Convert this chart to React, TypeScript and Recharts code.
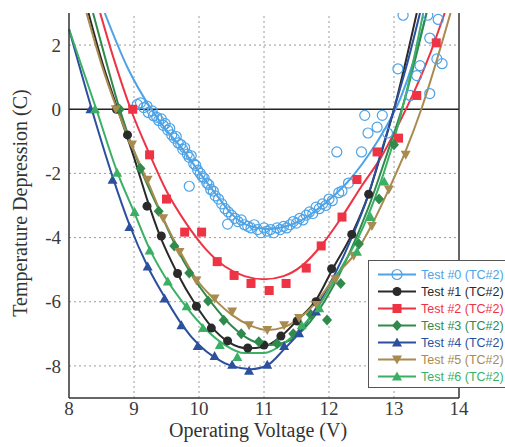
import React from 'react';
import { ComposedChart, Line, Scatter, XAxis, YAxis, ReferenceLine } from 'recharts';

type Pair = [number, number];

// fitted curves
const fit0: Pair[] = [[8.55, 3], [8.9, 1.3], [9.25, 0.05], [9.5, -0.65], [9.75, -1.25], [10.0, -1.95], [10.28, -2.7], [10.52, -3.3], [10.78, -3.64], [11.05, -3.73], [11.3, -3.67], [11.55, -3.49], [11.82, -3.12], [12.06, -2.72], [12.32, -2.19], [12.6, -1.45], [12.85, -0.65], [13.1, 0.35], [13.3, 1.5], [13.5, 3]];
const fit1: Pair[] = [[8.3, 3], [8.52, 1.4], [8.75, 0], [9.0, -1.5], [9.2, -2.8], [9.4, -3.95], [9.65, -5.05], [9.95, -6.1], [10.2, -6.8], [10.45, -7.25], [10.75, -7.45], [11.0, -7.4], [11.25, -7.1], [11.5, -6.6], [11.8, -5.95], [12.05, -5.0], [12.35, -3.9], [12.6, -2.7], [12.8, -1.4], [13.0, 0], [13.35, 3]];
const fit2: Pair[] = [[8.48, 3], [8.7, 1.5], [8.95, 0], [9.25, -1.45], [9.5, -2.55], [9.8, -3.55], [10.1, -4.35], [10.4, -4.9], [10.7, -5.2], [11.0, -5.3], [11.3, -5.2], [11.6, -4.85], [11.9, -4.2], [12.2, -3.35], [12.5, -2.4], [12.8, -1.5], [13.05, -0.55], [13.3, 0.5], [13.55, 1.7], [13.78, 3]];
const fit3: Pair[] = [[8.37, 3], [8.57, 1.5], [8.78, 0], [9.1, -1.85], [9.4, -3.2], [9.65, -4.3], [9.9, -5.2], [10.2, -6.05], [10.5, -6.75], [10.8, -7.2], [11.1, -7.35], [11.4, -7.2], [11.7, -6.65], [12.0, -5.75], [12.3, -4.55], [12.6, -3.1], [12.9, -1.35], [13.15, 0.2], [13.5, 3]];
const fit4: Pair[] = [[8.0, 2.5], [8.35, 0], [8.67, -2.1], [8.93, -3.6], [9.21, -4.9], [9.5, -5.95], [9.75, -6.75], [10.0, -7.35], [10.25, -7.75], [10.5, -8.0], [10.8, -8.1], [11.05, -7.98], [11.3, -7.5], [11.55, -6.95], [11.8, -6.2], [12.1, -5.1], [12.35, -4.0], [12.6, -2.7], [12.8, -1.35], [13.0, 0], [13.2, 1.4], [13.4, 3]];
const fit5: Pair[] = [[8.27, 3], [8.5, 1.4], [8.74, 0], [9.0, -1.3], [9.21, -2.25], [9.45, -3.4], [9.7, -4.4], [9.96, -5.3], [10.25, -5.95], [10.5, -6.4], [10.8, -6.75], [11.05, -6.88], [11.3, -6.8], [11.55, -6.5], [11.85, -5.9], [12.1, -5.2], [12.4, -4.5], [12.66, -3.6], [12.92, -2.5], [13.18, -1.3], [13.42, 0], [13.87, 3]];
const fit6: Pair[] = [[8.0, 2.5], [8.42, 0], [8.75, -2.0], [9.0, -3.2], [9.25, -4.4], [9.5, -5.3], [9.8, -6.15], [10.1, -6.85], [10.4, -7.35], [10.7, -7.6], [11.0, -7.6], [11.3, -7.3], [11.6, -6.75], [11.9, -5.95], [12.2, -4.9], [12.45, -4.0], [12.7, -2.8], [12.95, -1.3], [13.2, 0.6], [13.45, 3]];

// measured points
const pts0: Pair[] = [[9.05, 0.15], [9.1, 0.2], [9.15, 0.05], [9.2, 0.1], [9.22, -0.1], [9.28, -0.05], [9.3, -0.2], [9.35, -0.25], [9.38, -0.35], [9.42, -0.3], [9.45, -0.5], [9.48, -0.45], [9.52, -0.65], [9.55, -0.6], [9.58, -0.8], [9.62, -0.9], [9.65, -0.85], [9.68, -1.05], [9.72, -1.1], [9.75, -1.25], [9.78, -1.2], [9.82, -1.4], [9.85, -1.5], [9.85, -2.4], [9.88, -1.45], [9.92, -1.7], [9.95, -1.75], [9.98, -1.9], [10.02, -2.0], [10.05, -2.1], [10.08, -2.15], [10.12, -2.3], [10.15, -2.35], [10.18, -2.5], [10.22, -2.55], [10.25, -2.7], [10.3, -2.8], [10.35, -2.95], [10.4, -3.1], [10.44, -3.58], [10.45, -3.2], [10.5, -3.3], [10.55, -3.4], [10.6, -3.5], [10.65, -3.45], [10.7, -3.6], [10.75, -3.65], [10.8, -3.7], [10.85, -3.6], [10.9, -3.75], [10.95, -3.85], [11.0, -3.7], [11.05, -3.8], [11.1, -3.75], [11.15, -3.85], [11.2, -3.7], [11.25, -3.75], [11.3, -3.65], [11.35, -3.7], [11.4, -3.6], [11.45, -3.5], [11.5, -3.55], [11.55, -3.4], [11.6, -3.45], [11.65, -3.3], [11.7, -3.2], [11.75, -3.25], [11.8, -3.05], [11.85, -3.1], [11.9, -2.95], [11.95, -3.0], [12.0, -2.8], [12.05, -2.85], [12.12, -1.33], [12.15, -2.6], [12.2, -2.55], [12.3, -2.3], [12.5, -1.33], [12.55, -0.19], [12.6, -0.74], [12.74, -0.56], [12.82, -0.19], [12.9, -0.74], [13.06, 1.26], [13.14, 2.93], [13.25, 0.43], [13.35, 1.05], [13.4, 1.36], [13.52, 2.93], [13.55, 2.22], [13.55, 0.49], [13.66, 1.57], [13.68, 2.8], [13.74, 1.42]];
const pts1: Pair[] = [[8.73, 0], [8.9, -0.8], [9.2, -3.02], [9.42, -3.95], [9.67, -5.12], [9.96, -6.14], [10.19, -6.82], [10.44, -7.22], [10.75, -7.44], [11.0, -7.35], [11.26, -7.07], [11.51, -6.6], [11.8, -6.0], [12.04, -4.97], [12.35, -3.9], [12.61, -2.65]];
const pts2: Pair[] = [[8.98, 0], [9.24, -1.42], [9.5, -2.8], [9.78, -3.83], [10.04, -3.83], [10.28, -4.75], [10.54, -5.18], [10.8, -5.43], [11.08, -5.65], [11.34, -5.43], [11.65, -4.95], [11.88, -4.26], [12.2, -3.36], [12.43, -2.19], [12.74, -1.33], [13.07, -0.9], [13.35, 0.43], [13.65, 2.07]];
const pts3: Pair[] = [[8.78, 0], [9.1, -1.85], [9.38, -3.18], [9.62, -4.26], [9.85, -5.1], [10.14, -5.98], [10.38, -6.58], [10.65, -7.0], [10.92, -7.25], [11.2, -7.3], [11.45, -7.0], [11.72, -6.4], [11.97, -6.57], [12.18, -5.43], [12.46, -4.2], [12.77, -2.8], [13.0, -1.11]];
const pts4: Pair[] = [[8.33, 0], [8.67, -2.2], [8.93, -3.67], [9.21, -4.9], [9.47, -5.9], [9.73, -6.73], [9.98, -7.38], [10.24, -7.69], [10.51, -7.96], [10.77, -8.15], [11.05, -7.96], [11.31, -7.38], [11.54, -6.98], [11.8, -6.3]];
const pts5: Pair[] = [[8.72, 0], [8.97, -1.1], [9.21, -2.2], [9.45, -3.4], [9.7, -4.45], [9.96, -5.34], [10.24, -5.9], [10.51, -6.3], [10.77, -6.73], [11.05, -6.88], [11.31, -6.73], [11.54, -6.51], [11.81, -6.1], [12.1, -5.3], [12.38, -4.57], [12.66, -3.64], [12.92, -2.5], [13.18, -1.42]];
const pts6: Pair[] = [[8.4, 0], [8.74, -1.98], [9.01, -3.2], [9.24, -4.4], [9.52, -5.37], [9.81, -6.14], [10.06, -6.82], [10.32, -7.35], [10.59, -7.72], [11.58, -6.73], [11.85, -6.2], [12.43, -4.44], [12.64, -3.36], [12.85, -2.25]];

const xTicks = [8, 9, 10, 11, 12, 13, 14];
const yTicks = [-8, -6, -4, -2, 0, 2];
const xGrid = [9, 10, 11, 12, 13];
const yGrid = [-8, -6, -4, -2, 2];

type Kind = 'ring' | 'dot' | 'square' | 'diamond' | 'tri' | 'triDown';

const series: { name: string; color: string; kind: Kind; fit: Pair[]; pts: Pair[] }[] = [
  { name: 'Test #0 (TC#2)', color: '#4ea3e6', kind: 'ring', fit: fit0, pts: pts0 },
  { name: 'Test #1 (TC#2)', color: '#2a2a2a', kind: 'dot', fit: fit1, pts: pts1 },
  { name: 'Test #2 (TC#2)', color: '#ee3344', kind: 'square', fit: fit2, pts: pts2 },
  { name: 'Test #3 (TC#2)', color: '#2f8a4c', kind: 'diamond', fit: fit3, pts: pts3 },
  { name: 'Test #4 (TC#2)', color: '#2c4f9e', kind: 'tri', fit: fit4, pts: pts4 },
  { name: 'Test #5 (TC#2)', color: '#a98a4f', kind: 'triDown', fit: fit5, pts: pts5 },
  { name: 'Test #6 (TC#2)', color: '#3bb065', kind: 'tri', fit: fit6, pts: pts6 },
];

const toXY = (arr: Pair[]) => arr.map(([x, y]) => ({ x, y }));

const Marker = ({ kind, cx, cy, color }: { kind: Kind; cx: number; cy: number; color: string }) => {
  if (cx == null || cy == null) return null;
  switch (kind) {
    case 'ring':
      return <circle cx={cx} cy={cy} r={5} fill="none" stroke={color} strokeWidth={1.2} />;
    case 'dot':
      return <circle cx={cx} cy={cy} r={4.5} fill={color} />;
    case 'square':
      return <rect x={cx - 4.5} y={cy - 4.5} width={9} height={9} fill={color} />;
    case 'diamond':
      return <path d={`M${cx},${cy - 5.5}L${cx + 5},${cy}L${cx},${cy + 5.5}L${cx - 5},${cy}Z`} fill={color} />;
    case 'tri':
      return <path d={`M${cx},${cy - 5}L${cx + 5},${cy + 4}L${cx - 5},${cy + 4}Z`} fill={color} />;
    case 'triDown':
      return <path d={`M${cx},${cy + 5}L${cx + 5},${cy - 4}L${cx - 5},${cy - 4}Z`} fill={color} />;
  }
  return null;
};

const tickStyle = { fontFamily: '"Liberation Serif", serif', fontSize: 19, fill: '#3a3a3a' };

export default function App() {
  return (
    <div style={{ position: 'absolute', left: 0, top: 0, width: 505, height: 447, overflow: 'hidden', background: '#fff' }}>
      <ComposedChart width={505} height={447} margin={{ top: 13, right: 46, bottom: 0, left: 0 }}>
        <XAxis
          type="number"
          dataKey="x"
          domain={[8, 14]}
          ticks={xTicks}
          tickLine={false}
          tickSize={3}
          tickMargin={1}
          axisLine={{ stroke: '#333', strokeWidth: 1.5 }}
          tick={tickStyle}
          height={49}
          label={{
            content: () => (
              <text x={258} y={437} textAnchor="middle" style={{ fontFamily: '"Liberation Serif", serif', fontSize: 20, fill: '#333' }}>
                Operating Voltage (V)
              </text>
            ),
          }}
        />
        <YAxis
          type="number"
          dataKey="y"
          domain={[-9, 3]}
          allowDataOverflow
          ticks={yTicks}
          tickLine={false}
          axisLine={{ stroke: '#333', strokeWidth: 1.5 }}
          tick={tickStyle}
          width={69}
          label={{
            content: () => (
              <text transform="translate(27,203) rotate(-90)" textAnchor="middle" style={{ fontFamily: '"Liberation Serif", serif', fontSize: 20, fill: '#333' }}>
                Temperature Depression (C)
              </text>
            ),
          }}
        />
        {xGrid.map((v) => (
          <ReferenceLine key={'gx' + v} x={v} stroke="#9a9a9a" strokeDasharray="2 3" strokeWidth={1} />
        ))}
        {yGrid.map((v) => (
          <ReferenceLine key={'gy' + v} y={v} stroke="#9a9a9a" strokeDasharray="2 3" strokeWidth={1} />
        ))}
        <ReferenceLine y={0} stroke="#222" strokeWidth={1.6} />
        <ReferenceLine x={14} stroke="#333" strokeWidth={1.5} />
        {series.map((s) => (
          <Scatter
            key={'p' + s.name}
            data={toXY(s.pts)}
            dataKey="y"
            isAnimationActive={false}
            shape={(p: any) => <Marker kind={s.kind} cx={p.cx} cy={p.cy} color={s.color} />}
          />
        ))}
        {series.map((s) => (
          <Line
            key={'f' + s.name}
            data={toXY(s.fit)}
            dataKey="y"
            type="monotone"
            stroke={s.color}
            strokeWidth={2}
            dot={false}
            activeDot={false}
            isAnimationActive={false}
          />
        ))}
      </ComposedChart>
      <div
        style={{
          position: 'absolute',
          left: 368,
          top: 260,
          width: 150,
          height: 126,
          border: '1px solid #555',
          background: '#fff',
          fontFamily: '"Liberation Sans", Arial, sans-serif',
          fontSize: 12.5,
        }}
      >
        {series.map((s, i) => (
          <div key={s.name} style={{ position: 'absolute', left: 0, top: 5 + i * 17, height: 17, display: 'flex', alignItems: 'center', whiteSpace: 'nowrap' }}>
            <svg width={52} height={17} style={{ display: 'block' }}>
              <line x1={9} y1={8.5} x2={47} y2={8.5} stroke={s.color} strokeWidth={2} />
              <Marker kind={s.kind} cx={28} cy={8.5} color={s.color} />
            </svg>
            <span style={{ color: s.color }}>{s.name}</span>
          </div>
        ))}
      </div>
    </div>
  );
}
